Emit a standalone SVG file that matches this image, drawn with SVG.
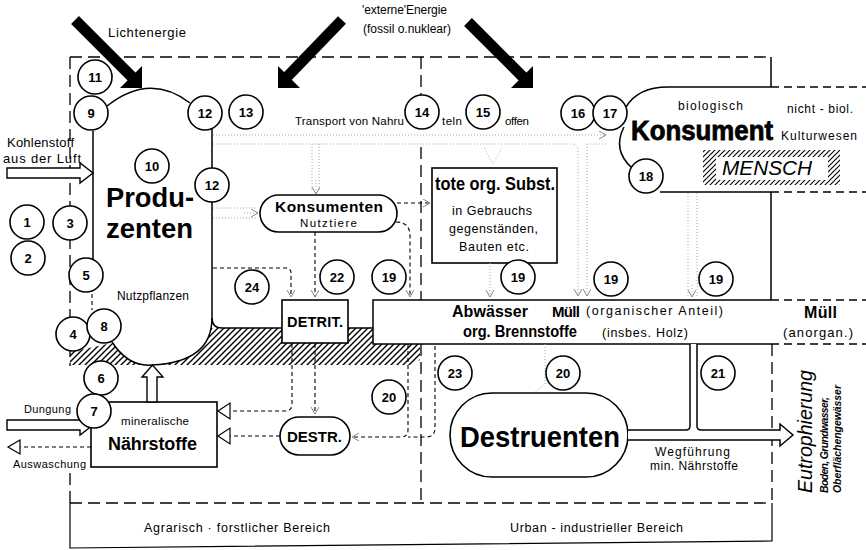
<svg xmlns="http://www.w3.org/2000/svg" width="866" height="550" viewBox="0 0 866 550">
<defs>
<style>
text{font-family:"Liberation Sans",Arial,sans-serif;fill:#000}
.n{font-weight:bold;font-size:13px;text-anchor:middle}
.b{font-weight:bold}
.bd{fill:none;stroke:#000;stroke-width:1.3;stroke-dasharray:12 6}
.bd2{fill:none;stroke:#000;stroke-width:1.3;stroke-dasharray:8 5}
.ln{fill:none;stroke:#000;stroke-width:1.5}
.ds{fill:none;stroke:#000;stroke-width:1.1;stroke-dasharray:4 3}
.ft{fill:none;stroke:#a8a8a8;stroke-width:1;stroke-dasharray:1 2}
.c{fill:#fff;stroke:#000;stroke-width:1.6}
.box{fill:#fff;stroke:#000;stroke-width:1.6}
.tri{fill:#fff;stroke:#000;stroke-width:1.2}
.ho{fill:#fff;stroke:#000;stroke-width:1.4}
</style>
<pattern id="h" width="6" height="6" patternUnits="userSpaceOnUse"><path d="M-1,1 L1,-1 M0,6 L6,0 M5,7 L7,5" stroke="#000" stroke-width="1.4"/></pattern>
<pattern id="h2" width="5" height="5" patternUnits="userSpaceOnUse"><path d="M-1,1 L1,-1 M0,5 L5,0 M4,6 L6,4" stroke="#000" stroke-width="1.1"/></pattern>
<marker id="v" markerWidth="10" markerHeight="10" refX="7" refY="4" orient="auto" markerUnits="userSpaceOnUse"><path d="M0,0 L7,4 L0,8" fill="none" stroke="#888" stroke-width="1"/></marker>
</defs>
<rect width="866" height="550" fill="#fff"/>

<!-- hatched soil band -->
<path id="hatchband" d="M70,365 L70,352 L112,343 L212,328 L420,328 L420,360 L410,365 Z" fill="url(#h)"/>

<!-- boundaries -->
<g id="boundaries">
<path class="bd" d="M70,57 L771,57"/>
<path class="ln" d="M771,57 L771,87 M771,192 L771,300"/>
<path class="bd" d="M70,57 L70,366 M70,473 L70,503"/>
<path class="bd" d="M421,57 L421,95 M421,147 L421,300 M421,344 L421,503"/>
<path class="bd" d="M70,503 L772,503"/>
<path class="bd" d="M772,344 L772,503"/>
<path class="ln" style="stroke-width:1.2" d="M70,503 L70,548 L772,541 L772,503"/>
</g>

<!-- producer -->
<g id="produzenten">
<path d="M93,140 L93,330 L112,342 C125,362 140,366 152,365 C195,363 212,345 212,318 L212,125 L190,103 Q150,72 107,106 L93,125 Z" fill="#fff"/>
<path class="ln" d="M107,106 Q150,72 190,103"/>
<path class="ln" d="M93,131 L93,259"/>
<path class="ds" d="M92,294 L92,310"/>
<path class="ln" d="M212,129 L212,168 M212,202 L212,318"/>
<path class="ln" d="M112,342 C125,362 140,366 152,365 C195,363 212,345 212,318"/>
<path class="ln" d="M212,318 Q212,328 222,328 L282,328 M348,328 L373,328"/>
<text class="b" x="106" y="207" font-size="27" textLength="88" lengthAdjust="spacingAndGlyphs">Produ-</text>
<text class="b" x="106" y="238" font-size="27" textLength="87" lengthAdjust="spacingAndGlyphs">zenten</text>
<text x="117" y="300" font-size="12" textLength="72">Nutzpflanzen</text>
</g>

<!-- consumer -->
<g id="konsument">
<path class="ln" d="M626,107 Q638,87 668,87 L771,87"/>
<path class="bd2" d="M771,87 L866,87 M771,192 L866,192"/>
<path class="ln" d="M624,127 Q612,150 632,168"/>
<path class="ln" d="M660,192 L771,192"/>
<text x="678" y="110" font-size="12" textLength="65">biologisch</text>
<text x="787" y="113" font-size="12" textLength="66">nicht - biol.</text>
<text class="b" x="631" y="140" font-size="27" stroke="#000" stroke-width="0.8" textLength="142" lengthAdjust="spacingAndGlyphs">Konsument</text>
<text x="781" y="140" font-size="12" textLength="76">Kulturwesen</text>
<rect x="703" y="150" width="137" height="35" fill="url(#h2)"/>
<rect x="716" y="157" width="112" height="23" fill="#fff"/>
<text x="722" y="175" font-size="20" font-style="italic" textLength="90" lengthAdjust="spacingAndGlyphs">MENSCH</text>
</g>

<!-- strip Abwässer / Müll -->
<g id="abwaesser">
<rect x="373" y="300" width="398" height="44" fill="#fff"/>
<path class="ln" d="M771,300 L373,300 L373,344 L771,344"/>
<path class="bd2" d="M771,300 L866,300 M771,344 L866,344"/>
<text class="b" x="452" y="317" font-size="16" textLength="76">Abwässer</text>
<text class="b" x="552" y="317" font-size="15" textLength="28">Müll</text>
<text x="586" y="315" font-size="12.5" textLength="137">(organischer Anteil)</text>
<text class="b" x="463" y="337" font-size="16" textLength="114" lengthAdjust="spacingAndGlyphs">org. Brennstoffe</text>
<text x="602" y="337" font-size="12.5" textLength="86">(insbes. Holz)</text>
<text class="b" x="804" y="318" font-size="16" textLength="33">Müll</text>
<text x="783" y="337" font-size="13" textLength="70">(anorgan.)</text>
</g>

<g id="konsumenten">
<rect class="box" x="260" y="195" width="137" height="37" rx="18.5"/>
<text class="b" x="275" y="212" font-size="15.5" textLength="108">Konsumenten</text>
<text x="300" y="226.5" font-size="11.5" textLength="57">Nutztiere</text>
</g>

<g id="detrit">
<rect class="box" x="282" y="300" width="66" height="43"/>
<text class="b" x="287" y="327" font-size="14.5" textLength="56">DETRIT.</text>
</g>

<g id="tote">
<rect class="box" x="432" y="168" width="125" height="95"/>
<text class="b" x="435" y="190" font-size="17.5" textLength="120" lengthAdjust="spacingAndGlyphs">tote org. Subst.</text>
<text x="452" y="215" font-size="12.5" textLength="80">in Gebrauchs</text>
<text x="449" y="233" font-size="12.5" textLength="89">gegenständen,</text>
<text x="459" y="251" font-size="12.5" textLength="70">Bauten etc.</text>
</g>

<g id="naehrstoffe">
<rect class="box" x="91" y="402" width="126" height="65"/>
<text x="121" y="425" font-size="11.5" textLength="68">mineralische</text>
<text class="b" x="108" y="450" font-size="18" textLength="89">Nährstoffe</text>
</g>

<g id="destr">
<rect class="box" x="280" y="417" width="70" height="38" rx="19"/>
<text class="b" x="287" y="442" font-size="15" textLength="55">DESTR.</text>
</g>

<g id="destruenten">
<rect class="box" x="450" y="393" width="178" height="84" rx="42"/>
<text class="b" x="460" y="447" font-size="30" textLength="160" lengthAdjust="spacingAndGlyphs">Destruenten</text>
</g>

<!-- connectors -->
<g id="connectors">
<path class="ft" d="M213,135 L606,135" marker-end="url(#v)"/>
<path class="ft" d="M213,144 L571,144 Q578,144 578,151 L578,296" marker-end="url(#v)"/>
<path class="ft" d="M587,144 L606,144"/>
<path class="ft" d="M587,144 L587,296" marker-end="url(#v)"/>
<path class="ft" d="M312,144 L312,192 M319,144 L319,192"/>
<path class="ft" d="M316,180 L316,194" marker-end="url(#v)"/>
<path class="ft" d="M484,148 L493,164 L502,148"/>
<path class="ft" d="M688,193 L688,296 M697,193 L697,296"/>
<path class="ft" d="M692,285 L692,297" marker-end="url(#v)"/>
<path class="ft" d="M490,263 L490,297" marker-end="url(#v)"/>
<path class="ft" d="M213,208 L256,208 M213,218 L256,218"/>
<path class="ft" d="M244,213 L258,213" marker-end="url(#v)"/>
<path class="ft" d="M545,344 L545,384 L535,392"/>
<path class="ds" d="M213,268 L286,268 Q291,268 291,273 L291,297" marker-end="url(#v)"/>
<path class="ds" d="M315,232 L315,297" marker-end="url(#v)"/>
<path class="ds" d="M397,203 L430,203" marker-end="url(#v)"/>
<path class="ds" d="M396,222 Q410,222 410,236 L410,297" marker-end="url(#v)"/>
<path class="ds" d="M292,344 L292,404 Q292,411 285,411 L230,411"/>
<polygon class="tri" points="218,411 230,403 230,419"/>
<path class="ds" d="M315,344 L315,414" marker-end="url(#v)"/>
<path class="ds" d="M280,436 L230,436"/>
<polygon class="tri" points="218,436 230,428 230,444"/>
<path class="ds" d="M408,344 L408,430 Q408,437 401,437 L352,437" marker-end="url(#v)"/>
<path class="ds" d="M435,346 L435,428 Q435,437 426,437 L408,437"/>
<path class="ds" d="M91,447 L20,447"/>
<polygon class="tri" points="8,447 20,440 20,454"/>
<polygon class="ho" points="7,168 80,168 80,163 93,173 80,183 80,178 7,178"/>
<polygon class="ho" points="7,420 80,420 80,415 93,425 80,435 80,430 7,430"/>
<polygon class="ho" points="147,402 147,377 142,377 152.5,365 163,377 157,377 157,402"/>
<path d="M628,430 L690,430 L690,344 L697,344 L697,430 L780,430 L780,440 L628,440 Z" fill="#fff"/>
<path class="ln" d="M628,440 L780,440 L780,446 L793,435 L780,424 L780,430 L701,430 Q697,430 697,426 L697,344"/>
<path class="ln" d="M690,344 L690,426 Q690,430 686,430 L628,430"/>
<path d="M75,20 L133,78" stroke="#000" stroke-width="11" fill="none"/>
<polygon points="142,88 120,88 142,66" fill="#000"/>
<path d="M342,20 L287,77" stroke="#000" stroke-width="11" fill="none"/>
<polygon points="278,88 300,88 278,66" fill="#000"/>
<path d="M468,22 L524,78" stroke="#000" stroke-width="11" fill="none"/>
<polygon points="533,88 511,88 533,66" fill="#000"/>
</g>

<!-- numbered nodes -->
<g id="n1"><circle class="c" cx="27" cy="222" r="17"/><text class="n" x="27" y="226.5">1</text></g>
<g id="n2"><circle class="c" cx="28" cy="258" r="17"/><text class="n" x="28" y="262.5">2</text></g>
<g id="n3"><circle class="c" cx="70" cy="223" r="17"/><text class="n" x="70" y="227.5">3</text></g>
<g id="n4"><circle class="c" cx="73" cy="334" r="17"/><text class="n" x="73" y="338.5">4</text></g>
<g id="n5"><circle class="c" cx="86" cy="275" r="17"/><text class="n" x="86" y="279.5">5</text></g>
<g id="n6"><circle class="c" cx="101" cy="378" r="17"/><text class="n" x="101" y="382.5">6</text></g>
<g id="n7"><circle class="c" cx="94" cy="411" r="17"/><text class="n" x="94" y="415.5">7</text></g>
<g id="n8"><circle class="c" cx="104" cy="326" r="17"/><text class="n" x="104" y="330.5">8</text></g>
<g id="n9"><circle class="c" cx="91" cy="113" r="17"/><text class="n" x="91" y="117.5">9</text></g>
<g id="n10"><circle class="c" cx="152" cy="166" r="17"/><text class="n" x="152" y="170.5">10</text></g>
<g id="n11"><circle class="c" cx="95" cy="77" r="17"/><text class="n" x="95" y="81.5">11</text></g>
<g id="n12a"><circle class="c" cx="205" cy="113" r="17"/><text class="n" x="205" y="117.5">12</text></g>
<g id="n12b"><circle class="c" cx="212" cy="185" r="17"/><text class="n" x="212" y="189.5">12</text></g>
<g id="n13"><circle class="c" cx="246" cy="112" r="17"/><text class="n" x="246" y="116.5">13</text></g>
<g id="n14"><circle class="c" cx="422" cy="112" r="17"/><text class="n" x="422" y="116.5">14</text></g>
<g id="n15"><circle class="c" cx="483" cy="112" r="17"/><text class="n" x="483" y="116.5">15</text></g>
<g id="n16"><circle class="c" cx="578" cy="113" r="17"/><text class="n" x="578" y="117.5">16</text></g>
<g id="n17"><circle class="c" cx="610" cy="113" r="17"/><text class="n" x="610" y="117.5">17</text></g>
<g id="n18"><circle class="c" cx="646" cy="176" r="17"/><text class="n" x="646" y="180.5">18</text></g>
<g id="n19a"><circle class="c" cx="389" cy="277" r="17"/><text class="n" x="389" y="281.5">19</text></g>
<g id="n19b"><circle class="c" cx="518" cy="277" r="17"/><text class="n" x="518" y="281.5">19</text></g>
<g id="n19c"><circle class="c" cx="611" cy="279" r="17"/><text class="n" x="611" y="283.5">19</text></g>
<g id="n19d"><circle class="c" cx="716" cy="279" r="17"/><text class="n" x="716" y="283.5">19</text></g>
<g id="n20a"><circle class="c" cx="389" cy="397" r="17"/><text class="n" x="389" y="401.5">20</text></g>
<g id="n20b"><circle class="c" cx="563" cy="373" r="17"/><text class="n" x="563" y="377.5">20</text></g>
<g id="n21"><circle class="c" cx="718" cy="373" r="17"/><text class="n" x="718" y="377.5">21</text></g>
<g id="n22"><circle class="c" cx="337" cy="277" r="17"/><text class="n" x="337" y="281.5">22</text></g>
<g id="n23"><circle class="c" cx="455" cy="373" r="17"/><text class="n" x="455" y="377.5">23</text></g>
<g id="n24"><circle class="c" cx="252" cy="287" r="17"/><text class="n" x="252" y="291.5">24</text></g>

<!-- free labels -->
<g id="labels">
<text x="108" y="37" font-size="13" textLength="78">Lichtenergie</text>
<text x="362" y="14" font-size="12" textLength="85">'externe'Energie</text>
<text x="363" y="33" font-size="12" textLength="88">(fossil o.nuklear)</text>
<text x="7" y="147" font-size="13" textLength="67">Kohlenstoff</text>
<text x="3" y="163" font-size="13" textLength="78">aus der Luft</text>
<text x="295" y="125" font-size="11.5" textLength="109">Transport von Nahru</text>
<text x="442" y="125" font-size="11.5" textLength="20">teln</text>
<text x="505" y="125" font-size="11.5" textLength="24">offen</text>
<text x="24" y="413" font-size="11" textLength="47">Dungung</text>
<text x="13" y="468" font-size="11" textLength="73">Auswaschung</text>
<text x="655" y="456" font-size="12" textLength="75">Wegführung</text>
<text x="650" y="470" font-size="12" textLength="88">min. Nährstoffe</text>
<text x="144" y="532" font-size="12.5" textLength="186">Agrarisch · forstlicher Bereich</text>
<text x="510" y="532" font-size="12.5" textLength="173">Urban - industrieller Bereich</text>
<text transform="translate(812,493) rotate(-90)" font-size="21" font-style="italic" textLength="123" lengthAdjust="spacingAndGlyphs">Eutrophierung</text>
<text transform="translate(828,493) rotate(-90)" font-size="10.5" font-style="italic" font-weight="bold" textLength="96">Boden, Grundwasser,</text>
<text transform="translate(841,493) rotate(-90)" font-size="10.5" font-style="italic" font-weight="bold" textLength="108">Oberflächengewässer</text>
</g>
</svg>
